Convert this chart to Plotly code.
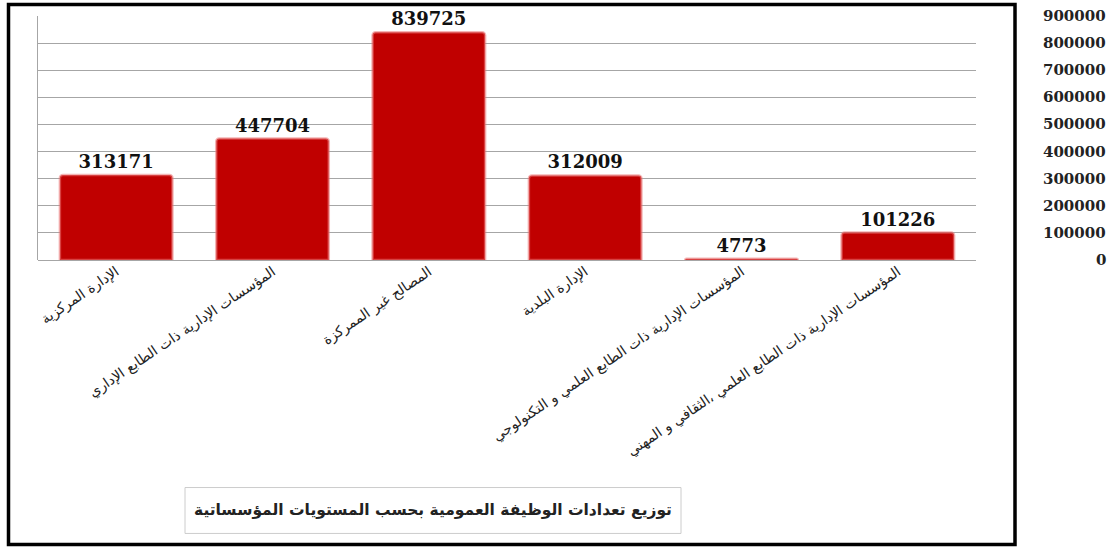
import plotly.graph_objects as go

categories = [
    "الإدارة المركزية",
    "المؤسسات الإدارية ذات الطابع الإداري",
    "المصالح غير الممركزة",
    "الإدارة البلدية",
    "المؤسسات الإدارية ذات الطابع العلمي و التكنولوجي",
    "المؤسسات الإدارية ذات الطابع العلمي ،الثقافي و المهني",
]
values = [313171, 447704, 839725, 312009, 4773, 101226]
tick_values = [0, 100000, 200000, 300000, 400000, 500000, 600000, 700000, 800000, 900000]
tick_labels = [str(v) for v in tick_values]
title_text = "توزيع تعدادات الوظيفة العمومية بحسب المستويات المؤسساتية"

W, H = 1117, 548
ml, mr, mt, mb = 38, 141, 15.5, 288
pw = W - ml - mr
ph = H - mt - mb

def px_x(x):
    return (x - ml) / pw

def px_y(y):
    return (H - mb - y) / ph

fig = go.Figure()
fig.add_trace(go.Bar(
    x=categories,
    y=values,
    marker=dict(color="#c00000", line=dict(color="rgba(235,120,120,0.55)", width=2.5), cornerradius=3),
    text=[str(v) for v in values],
    textposition="outside",
    textfont=dict(family="DejaVu Serif", size=18, color="#111111", weight="bold"),
    cliponaxis=False,
    hoverinfo="skip",
))

annotations = []
for v, lab in zip(tick_values, tick_labels):
    annotations.append(dict(
        x=px_x(1108), xref="paper", y=v, yref="y",
        text=lab, showarrow=False, xanchor="right", yanchor="middle",
        font=dict(family="DejaVu Serif", size=15, color="#222222", weight="bold"),
    ))

bx0, bx1, by0, by1 = 185, 681, 488, 534
annotations.append(dict(
    x=px_x((bx0 + bx1) / 2), xref="paper", y=px_y((by0 + by1) / 2), yref="paper",
    text=title_text, showarrow=False, xanchor="center", yanchor="middle",
    font=dict(family="DejaVu Sans", size=15.5, color="#222222", weight="bold"),
))

shapes = [
    dict(type="rect", xref="paper", yref="paper",
         x0=px_x(8.5), x1=px_x(1015), y0=px_y(545), y1=px_y(4),
         line=dict(color="black", width=3.5), fillcolor="rgba(0,0,0,0)", layer="above"),
    dict(type="rect", xref="paper", yref="paper",
         x0=px_x(bx0), x1=px_x(bx1), y0=px_y(by1), y1=px_y(by0),
         line=dict(color="#cccccc", width=1), fillcolor="rgba(0,0,0,0)"),
]

fig.update_layout(
    width=W, height=H,
    margin=dict(l=ml, r=mr, t=mt, b=mb, autoexpand=False),
    paper_bgcolor="white", plot_bgcolor="white",
    bargap=0.28,
    showlegend=False,
    annotations=annotations,
    shapes=shapes,
    xaxis=dict(
        tickangle=-34,
        tickfont=dict(family="DejaVu Sans", size=14, color="#222222"),
        showgrid=False, showline=False, ticks="", zeroline=False,
    ),
    yaxis=dict(
        range=[0, 900000], tickvals=tick_values, showticklabels=False,
        showgrid=True, gridcolor="#a6a6a6", gridwidth=1,
        showline=True, linecolor="#a6a6a6", linewidth=1,
        zeroline=True, zerolinecolor="#a6a6a6", zerolinewidth=1,
        ticks="",
    ),
)

fig.write_html("out.html")
